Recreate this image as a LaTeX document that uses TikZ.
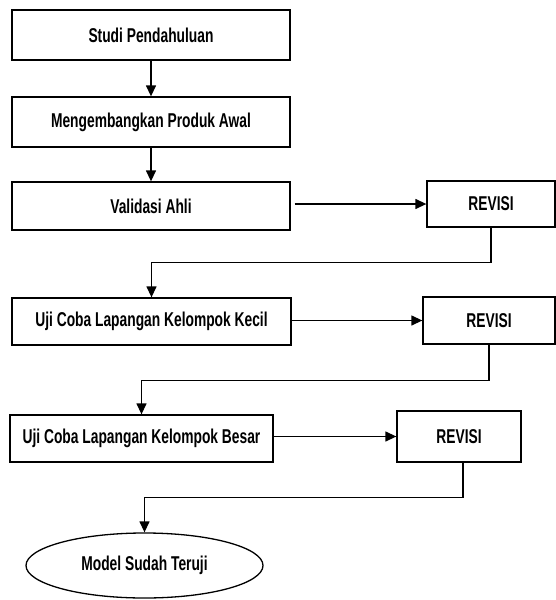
\documentclass[tikz,border=0pt]{standalone}
\usepackage{fontspec}
\setmainfont{Liberation Sans}[FakeStretch=0.69]
\usepackage{tikz}
\usetikzlibrary{arrows.meta,shapes.geometric}

\begin{document}
\begin{tikzpicture}[x=1pt,y=-1pt,
    stagebox/.style={draw,line width=1.3pt,minimum height=48pt,inner sep=0pt,font=\bfseries\fontsize{20}{23}\selectfont},
    flow/.style={-{Triangle[length=11pt,width=10pt]},line width=1.3pt}]
    % Canvas
    \useasboundingbox (0,0) rectangle (556,600);

    % Main stages
    \node[stagebox,minimum width=278pt,minimum height=50pt] (studi) at (151,35) {Studi Pendahuluan};
    \node[stagebox,minimum width=278pt,minimum height=50pt] (produk) at (151,122) {Mengembangkan Produk Awal};
    \node[stagebox,minimum width=278pt] (validasi) at (151,206) {Validasi Ahli};
    \node[stagebox,minimum width=279pt,minimum height=47pt] (kecil) at (151.5,321.5) {Uji Coba Lapangan Kelompok Kecil};
    \node[stagebox,minimum width=263pt,minimum height=47pt] (besar) at (141.5,438.5) {Uji Coba Lapangan Kelompok Besar};
    \node[stagebox,ellipse,minimum width=237pt,minimum height=65pt] (model) at (144.5,565.5) {Model Sudah Teruji};

    % Revision boxes
    \node[stagebox,minimum width=128pt,minimum height=46pt] (revisiA) at (491,204) {REVISI};
    \node[stagebox,minimum width=132pt,minimum height=47pt] (revisiB) at (489,320.5) {REVISI};
    \node[stagebox,minimum width=124pt,minimum height=51pt] (revisiC) at (459,436.5) {REVISI};

    % Straight arrows
    \draw[flow] (studi) -- (produk);
    \draw[flow] (produk) -- (validasi);
    \draw[flow,shorten <=4pt] (validasi.east |- revisiA.west) -- (revisiA.west);
    \draw[flow] (kecil.east |- revisiB.west) -- (revisiB.west);
    \draw[flow] (besar.east |- revisiC.west) -- (revisiC.west);

    % Feedback back to the next stage
    \draw[flow] (revisiA.south) -- ++(0,35) -| (kecil.north);
    \draw[flow] (revisiB.south) -- ++(0,36) -| (besar.north);
    \draw[flow] ([xshift=4pt]revisiC.south) -- ++(0,35) -| (model.north);
\end{tikzpicture}
\end{document}
